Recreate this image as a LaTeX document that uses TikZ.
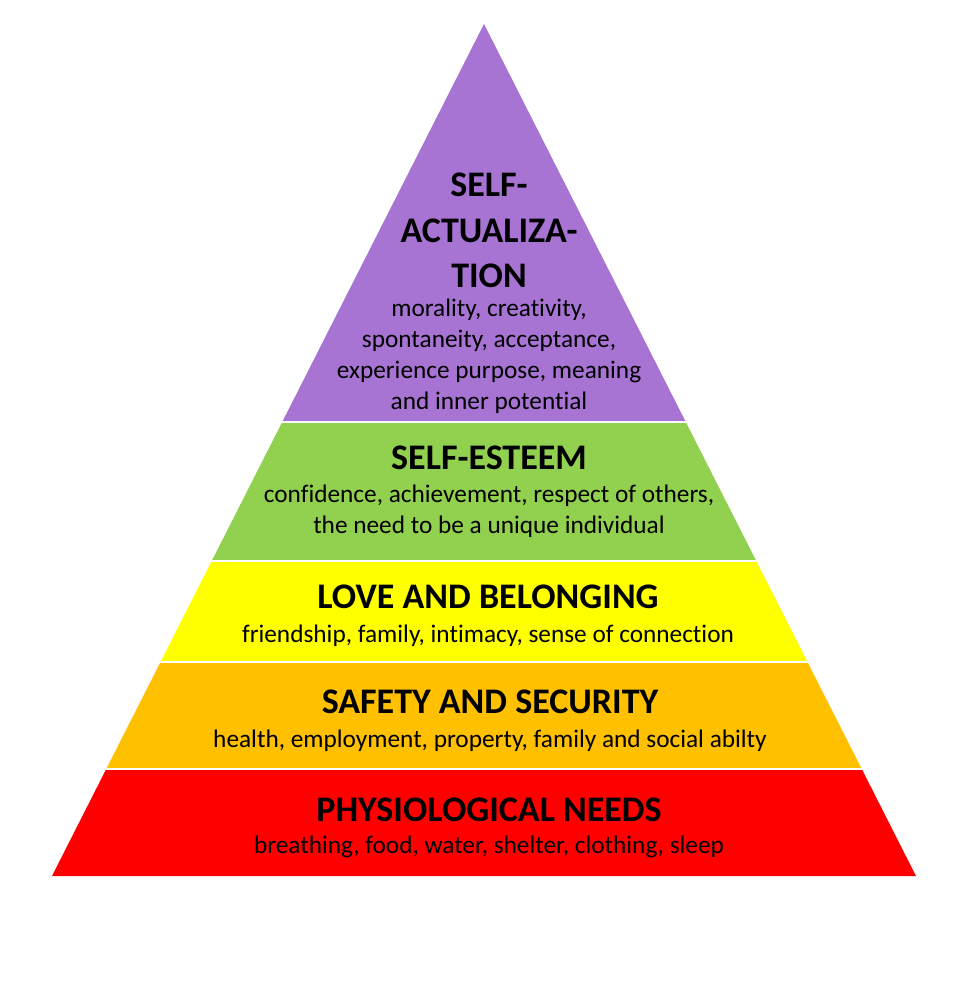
\documentclass[tikz,border=0pt]{standalone}
\usepackage{fontspec}
\setmainfont[Ligatures=NoCommon]{Carlito}
\definecolor{lvPurple}{RGB}{168,116,212}
\definecolor{lvGreen}{RGB}{146,208,80}
\definecolor{lvYellow}{RGB}{255,255,0}
\definecolor{lvOrange}{RGB}{255,192,0}
\definecolor{lvRed}{RGB}{255,0,0}
\begin{document}
\begin{tikzpicture}[x=1pt,y=-1pt,
  title/.style={anchor=base,inner sep=0pt,font=\fontsize{36}{42}\selectfont\bfseries},
  body/.style={anchor=base,inner sep=0pt,font=\fontsize{25.3}{30}\selectfont},
  sep/.style={white,line width=1.5pt}]
\useasboundingbox (0,0) rectangle (968,1000);
\coordinate (apex) at (484,24);
\coordinate (bl) at (52,876);
\coordinate (br) at (916,876);
\begin{scope}
  \clip (apex) -- (bl) -- (br) -- cycle;
  \fill[lvPurple] (0,0) rectangle (968,422);
  \fill[lvGreen] (0,422) rectangle (968,561);
  \fill[lvYellow] (0,561) rectangle (968,662);
  \fill[lvOrange] (0,662) rectangle (968,769);
  \fill[lvRed] (0,769) rectangle (968,877);
  \draw[sep] (0,422) -- (968,422);
  \draw[sep] (0,561) -- (968,561);
  \draw[sep] (0,662) -- (968,662);
  \draw[sep] (0,769) -- (968,769);
\end{scope}
% Self-actualization
\node[title] (saA) at (489,197) {SELF-};
\node[title] (saB) at (489,242) {ACTUALIZA-};
\node[title] (saC) at (489,287) {TION};
\node[body] (saD) at (489,316) {morality, creativity,};
\node[body] (saE) at (489,347) {spontaneity, acceptance,};
\node[body] (saF) at (489,378) {experience purpose, meaning};
\node[body] (saG) at (489,409) {and inner potential};
% Self-esteem
\node[title] (seA) at (489,469) {SELF-ESTEEM};
\node[body] (seB) at (489,502) {confidence, achievement, respect of others,};
\node[body] (seC) at (489,533) {the need to be a unique individual};
% Love and belonging
\node[title] (lbA) at (488,608) {LOVE AND BELONGING};
\node[body] (lbB) at (488,642) {friendship, family, intimacy, sense of connection};
% Safety
\node[title] (ssA) at (490,713) {SAFETY AND SECURITY};
\node[body] (ssB) at (490,747) {health, employment, property, family and social abilty};
% Physiological
\node[title] (phA) at (489,821) {PHYSIOLOGICAL NEEDS};
\node[body] (phB) at (489,853) {breathing, food, water, shelter, clothing, sleep};
\end{tikzpicture}
\end{document}
